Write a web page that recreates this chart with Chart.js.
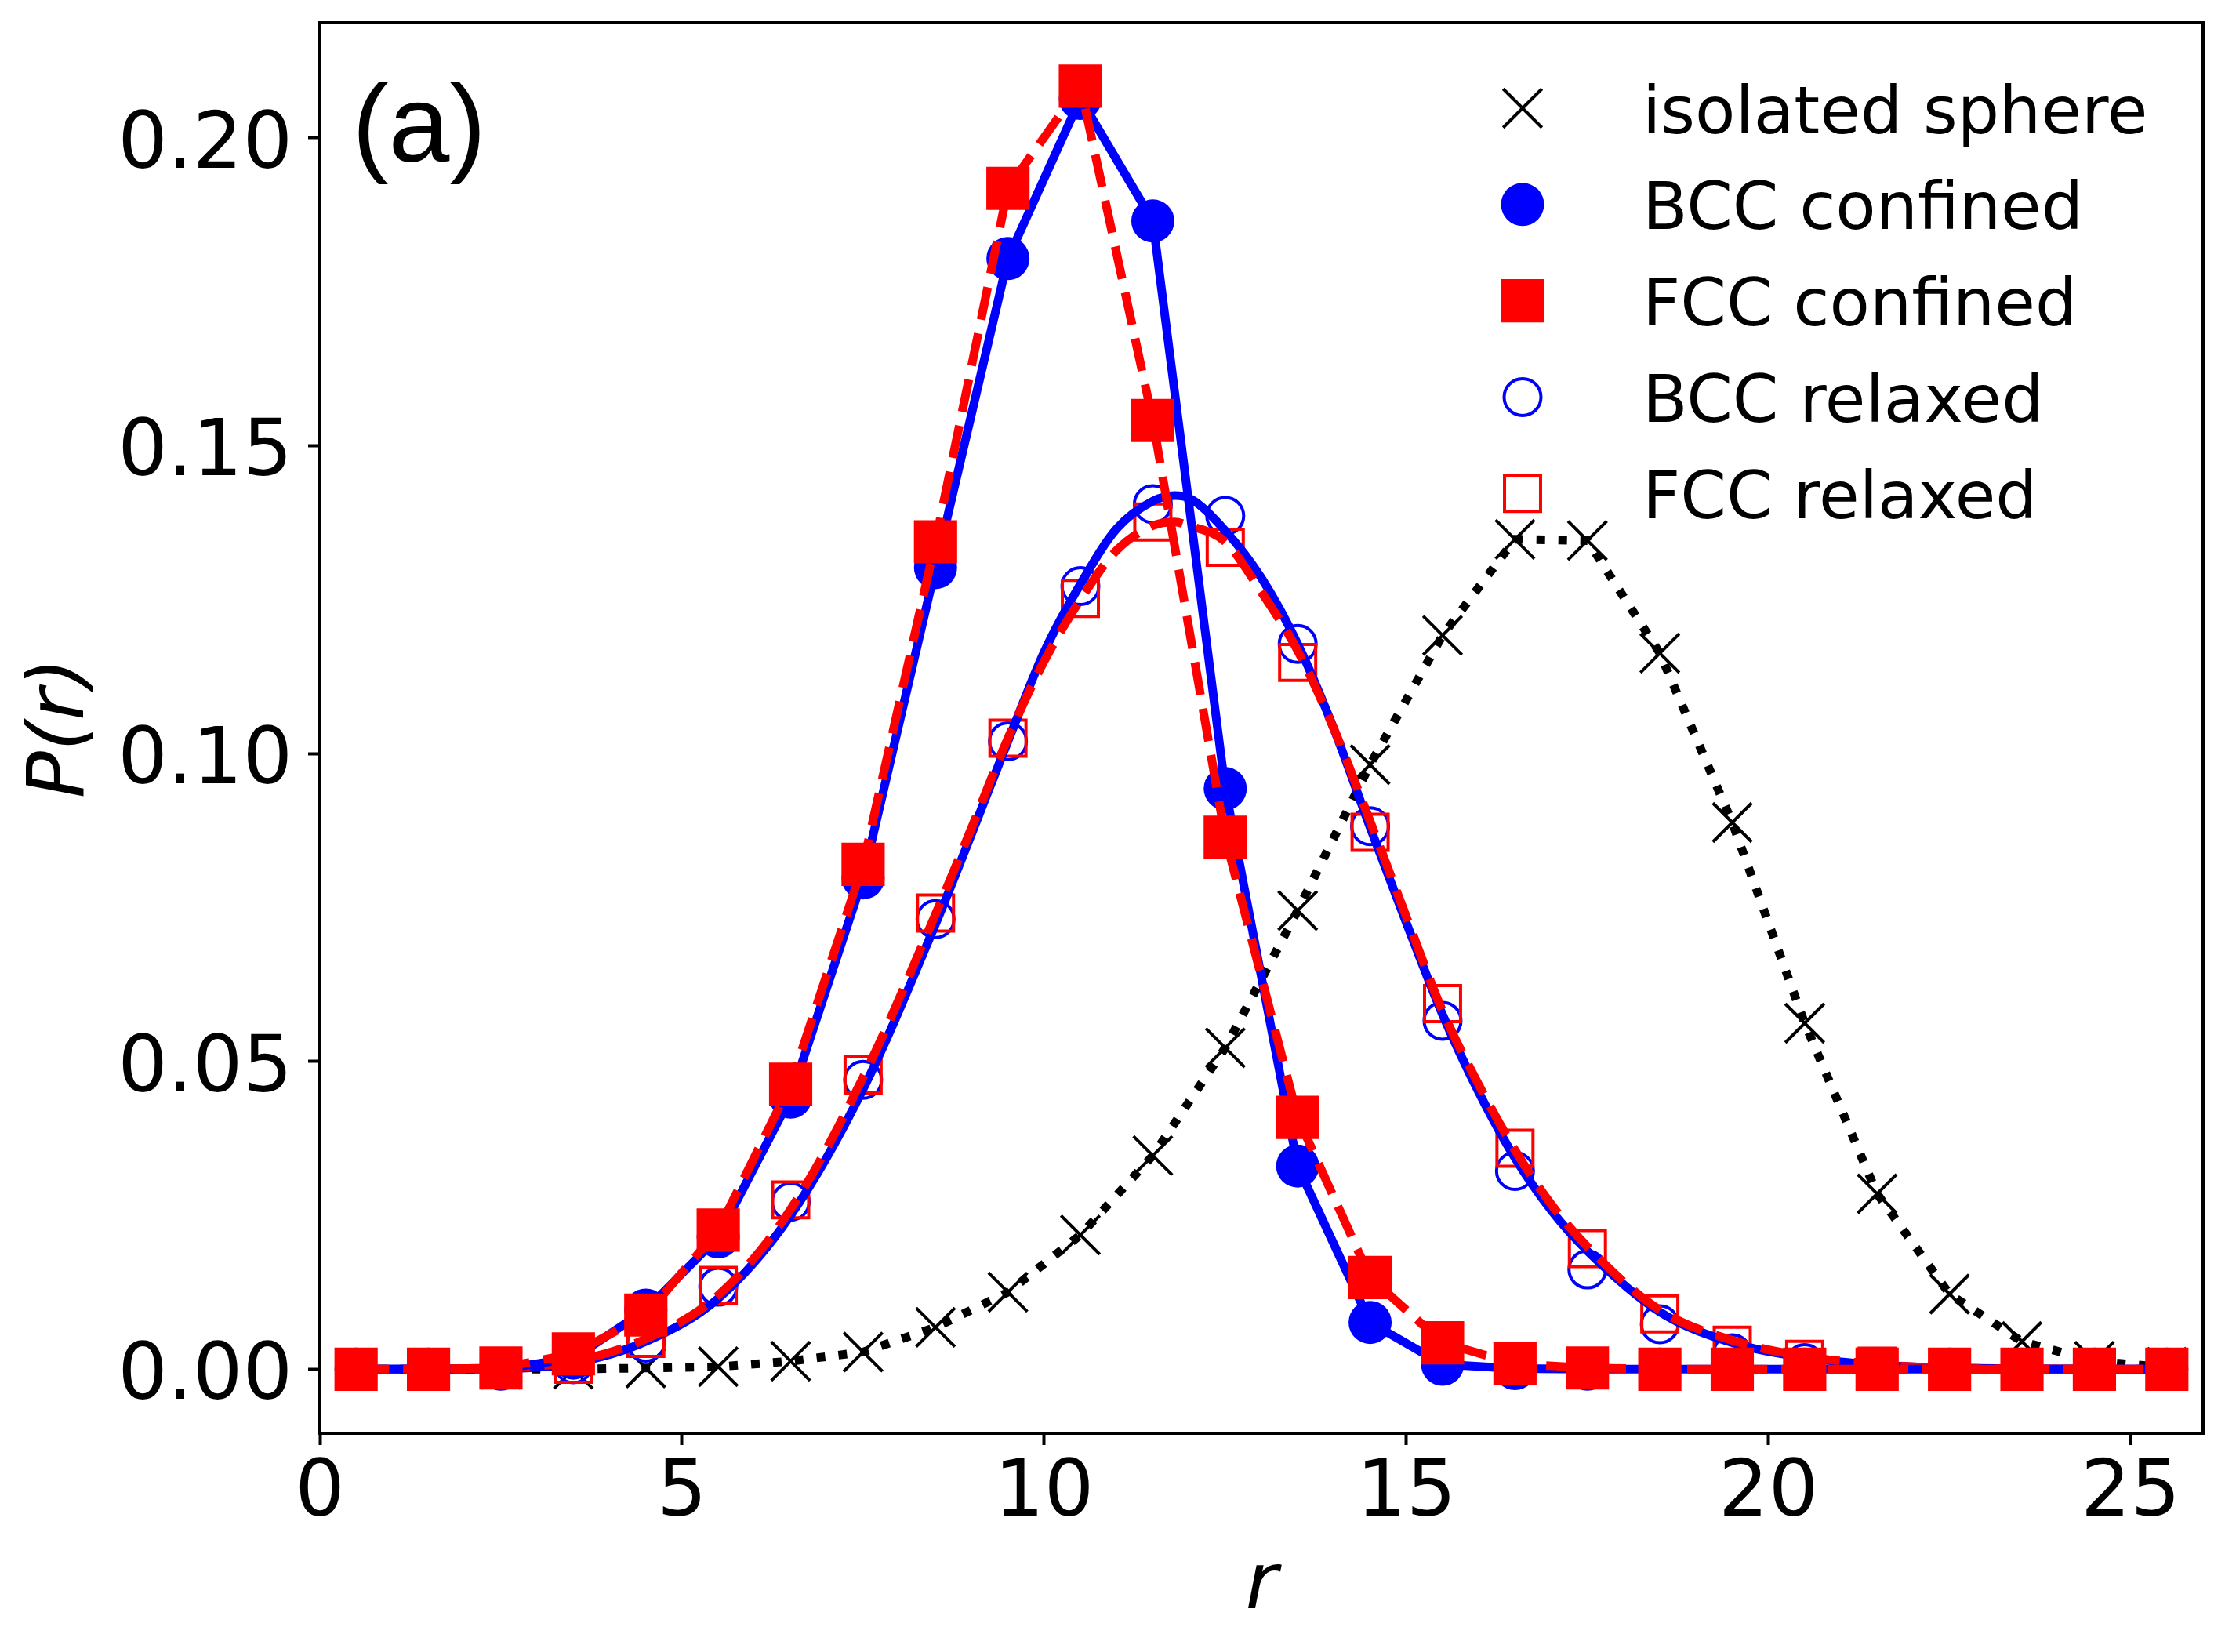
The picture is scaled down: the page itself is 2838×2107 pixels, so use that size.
<!DOCTYPE html>
<html>
<head>
<meta charset="utf-8">
<script src="https://cdn.jsdelivr.net/npm/chart.js@4.4.1/dist/chart.umd.min.js"></script>
<style>
  html, body { margin: 0; padding: 0; background: #fff; }
  #wrap { width: 2838px; height: 2107px; }
</style>
</head>
<body>
<div id="wrap"><canvas id="c" width="2838" height="2107"></canvas></div>
<script>
// ---- data ----
const rPoints = [0.5, 1.5, 2.5, 3.5, 4.5, 5.5, 6.5, 7.5, 8.5, 9.5, 10.5, 11.5, 12.5,
                 13.5, 14.5, 15.5, 16.5, 17.5, 18.5, 19.5, 20.5, 21.5, 22.5, 23.5, 24.5, 25.5];

const isolatedSphere = [0, 0, 0, 0.0000, 0.0002, 0.0004, 0.0013, 0.0028, 0.0068, 0.0125, 0.0218, 0.0347, 0.0522,
                        0.0745, 0.0982, 0.1192, 0.1348, 0.1346, 0.1163, 0.0888, 0.0562, 0.0285, 0.0122, 0.0045, 0.0013, 0.0003];
const bccConfined = [0, 0, 0, 0.0018, 0.0096, 0.0215, 0.0442, 0.0798, 0.1302, 0.1804, 0.2064, 0.1865, 0.0943,
                     0.0330, 0.0076, 0.0008, 0.0001, 0, 0, 0, 0, 0, 0, 0, 0, 0];
const fccConfined = [0, 0, 0.0002, 0.0025, 0.0088, 0.0226, 0.0463, 0.0820, 0.1344, 0.1918, 0.2084, 0.1541, 0.0864,
                     0.0409, 0.0149, 0.0043, 0.0009, 0.0002, 0, 0, 0, 0, 0, 0, 0, 0];
const bccRelaxed = [0, 0, 0.0001, 0.0008, 0.0043, 0.0134, 0.0272, 0.0470, 0.0731, 0.1020, 0.1272, 0.1405, 0.1386,
                    0.1178, 0.0882, 0.0566, 0.0322, 0.0162, 0.0073, 0.0026, 0.0010, 0.0003, 0, 0, 0, 0];
const fccRelaxed = [0, 0, 0.0002, 0.0008, 0.0050, 0.0136, 0.0275, 0.0478, 0.0741, 0.1025, 0.1252, 0.1376, 0.1335,
                    0.1148, 0.0872, 0.0594, 0.0359, 0.0196, 0.0090, 0.0039, 0.0016, 0.0005, 0.0001, 0, 0, 0];

// smooth curves drawn through the relaxed data
const fitR = [0.5, 2.5, 3.5, 4.5, 5.5, 6.5, 7.5, 8.5, 9.0, 9.5, 10.0, 10.5, 11.0, 11.5, 11.8, 12.0, 12.5,
              13.0, 13.5, 14.0, 14.5, 15.0, 15.5, 16.0, 16.5, 17.0, 17.5, 18.5, 19.5, 20.5, 21.5, 22.5, 25.5];
const bccRelaxedFit = [0, 0.0001, 0.0010, 0.0045, 0.0115, 0.0250, 0.0455, 0.0723, 0.0870, 0.1020, 0.1165, 0.1275,
                       0.1365, 0.1410, 0.1419, 0.1415, 0.1362, 0.1285, 0.1178, 0.1040, 0.0880, 0.0725, 0.0576,
                       0.0450, 0.0343, 0.0258, 0.0192, 0.0093, 0.0043, 0.0019, 0.0007, 0.0002, 0];
const fccRelaxedFit = [0, 0.0002, 0.0013, 0.0049, 0.0120, 0.0260, 0.0474, 0.0739, 0.0880, 0.1025, 0.1150, 0.1250,
                       0.1330, 0.1370, 0.1376, 0.1370, 0.1344, 0.1262, 0.1167, 0.1040, 0.0890, 0.0735, 0.0582,
                       0.0462, 0.0356, 0.0268, 0.0199, 0.0096, 0.0047, 0.0021, 0.0008, 0.0002, 0];

const xTicks = [0, 5, 10, 15, 20, 25];
const yTicks = [0, 0.05, 0.10, 0.15, 0.20];

// ---- helpers ----
const pts = (xs, ys) => xs.map((x, i) => ({ x: x, y: ys[i] }));
const BLUE = '#0000ff', RED = '#ff0000', BLACK = '#000000';
const FONT = 'DejaVu Sans';

// legend order as in the figure
const legendOrder = ['isolated sphere', 'BCC confined', 'FCC confined', 'BCC relaxed', 'FCC relaxed'];

// frame, legend and panel letter (matplotlib style, inside axes)
const decorPlugin = {
  id: 'decor',
  afterDraw(chart) {
    const ctx = chart.ctx;
    const a = chart.chartArea;
    ctx.save();
    ctx.strokeStyle = BLACK;
    ctx.lineWidth = 4;
    ctx.setLineDash([]);
    ctx.strokeRect(a.left, a.top, a.right - a.left, a.bottom - a.top);

    // panel letter
    ctx.fillStyle = BLACK;
    ctx.font = '140px "Liberation Sans"';
    ctx.textBaseline = 'alphabetic';
    ctx.textAlign = 'left';
    ctx.fillText('(a)', 449, 206);

    // legend (markers only, no frame)
    const step = 122.8;
    legendOrder.forEach((lab, i) => {
      const ds = chart.data.datasets.find(d => d.label === lab);
      const cy = 138 + i * step;
      ctx.save();
      ctx.fillStyle = ds.pointBackgroundColor;
      ctx.strokeStyle = ds.pointBorderColor;
      ctx.lineWidth = ds.pointBorderWidth;
      Chart.helpers.drawPoint(ctx, {
        pointStyle: ds.pointStyle, radius: ds.pointRadius,
        borderWidth: ds.pointBorderWidth, rotation: 0
      }, 1942, cy);
      ctx.restore();
      ctx.fillStyle = BLACK;
      ctx.font = '84px "' + FONT + '"';
      ctx.fillText(lab, 2095, cy + 31.5);
    });
    ctx.restore();
  }
};

const datasets = [
  { label: 'FCC confined', data: pts(rPoints, fccConfined),
    borderColor: RED, borderWidth: 11, borderDash: [42, 18],
    pointStyle: 'rect', pointRadius: 39, pointBorderWidth: 0,
    pointBackgroundColor: RED, pointBorderColor: RED },
  { label: 'BCC confined', data: pts(rPoints, bccConfined),
    borderColor: BLUE, borderWidth: 11,
    pointStyle: 'circle', pointRadius: 27.5, pointBorderWidth: 0,
    pointBackgroundColor: BLUE, pointBorderColor: BLUE },
  { label: 'FCC relaxed fit', data: pts(fitR, fccRelaxedFit),
    borderColor: RED, borderWidth: 11, borderDash: [42, 18],
    pointRadius: 0, cubicInterpolationMode: 'monotone' },
  { label: 'BCC relaxed fit', data: pts(fitR, bccRelaxedFit),
    borderColor: BLUE, borderWidth: 11,
    pointRadius: 0, cubicInterpolationMode: 'monotone' },
  { label: 'FCC relaxed', data: pts(rPoints, fccRelaxed), showLine: false,
    pointStyle: 'rect', pointRadius: 32.5, pointBorderWidth: 4,
    pointBackgroundColor: 'rgba(0,0,0,0)', pointBorderColor: RED },
  { label: 'BCC relaxed', data: pts(rPoints, bccRelaxed), showLine: false,
    pointStyle: 'circle', pointRadius: 23.5, pointBorderWidth: 4,
    pointBackgroundColor: 'rgba(0,0,0,0)', pointBorderColor: BLUE },
  { label: 'isolated sphere', data: pts(rPoints, isolatedSphere),
    borderColor: BLACK, borderWidth: 11, borderDash: [11, 17],
    pointStyle: 'crossRot', pointRadius: 35, pointBorderWidth: 4,
    pointBackgroundColor: BLACK, pointBorderColor: BLACK }
];

Chart.defaults.color = BLACK;
Chart.defaults.font.family = FONT;

new Chart(document.getElementById('c'), {
  type: 'line',
  data: { datasets: datasets },
  plugins: [decorPlugin],
  options: {
    responsive: false,
    animation: false,
    events: [],
    devicePixelRatio: 1,
    layout: { autoPadding: false, padding: { left: 0, top: 29, right: 28, bottom: 0 } },
    plugins: { legend: { display: false }, tooltip: { enabled: false } },
    elements: { line: { tension: 0 } },
    scales: {
      x: {
        type: 'linear', min: 0, max: 26,
        afterBuildTicks: s => { s.ticks = xTicks.map(v => ({ value: v })); },
        afterFit: s => { s.height = 279; s.paddingLeft = 0; s.paddingRight = 0; },
        ticks: { font: { size: 100 }, padding: 4, color: BLACK, maxRotation: 0, autoSkip: false,
                 callback: v => String(v) },
        grid: { drawOnChartArea: false, drawTicks: true, tickLength: 15, tickWidth: 4, tickColor: BLACK },
        border: { display: true, color: BLACK, width: 4 },
        title: { display: true, text: 'r', color: BLACK,
                 font: { size: 100, style: 'italic' }, padding: { top: 0, bottom: 22 } }
      },
      y: {
        type: 'linear', min: -0.0104, max: 0.2187,
        afterBuildTicks: s => { s.ticks = yTicks.map(v => ({ value: v })); },
        afterFit: s => { s.width = 408; s.paddingTop = 0; s.paddingBottom = 0; },
        ticks: { font: { size: 100 }, padding: 20, color: BLACK, autoSkip: false, labelOffset: 12,
                 callback: v => v.toFixed(2) },
        grid: { drawOnChartArea: false, drawTicks: true, tickLength: 15, tickWidth: 4, tickColor: BLACK },
        border: { display: true, color: BLACK, width: 4 },
        title: { display: true, text: 'P(r)', color: BLACK,
                 font: { size: 100, style: 'italic' }, padding: { top: 20, bottom: 0 } }
      }
    }
  }
});
</script>
</body>
</html>
